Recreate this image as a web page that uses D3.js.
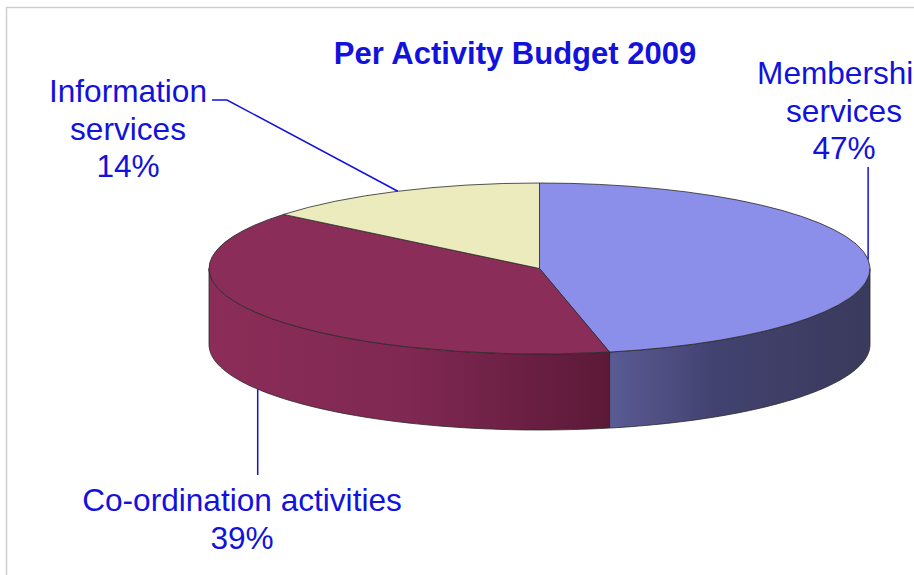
<!DOCTYPE html>
<html>
<head>
<meta charset="utf-8">
<script src="https://cdn.jsdelivr.net/npm/d3@7"></script>
<style>
  body { margin: 0; background: #fff; }
  svg { display: block; font-family: "Liberation Sans", Arial, sans-serif; }
</style>
</head>
<body>
<div class="canvas"></div>
<script>
// data
const activities = ["Membership services", "Co-ordination activities", "Information services"];
const shares = [46.6, 39.3, 14.1];
const titleText = "Per Activity Budget 2009";

const dims = { width: 914, height: 575 };
const pieDims = { cx: 539.5, cy: 268.5, rx: 330.5, ry: 85.5, depth: 76 };

const topColors = ["#8c8fe9", "#8b2d59", "#ecebbd"];
const sideStops = [
  [["0%", "#5b5b95"], ["40%", "#424270"], ["100%", "#3a3a5c"]],
  [["0%", "#8b2d58"], ["50%", "#7f2852"], ["100%", "#5c1937"]],
  [["0%", "#c4c39a"], ["100%", "#a9a883"]]
];
const labelColor = "#1212dc";

// create svg container
const svg = d3
  .select(".canvas")
  .append("svg")
  .attr("width", dims.width)
  .attr("height", dims.height);

// frame
svg
  .append("rect")
  .attr("x", 6.5)
  .attr("y", 7.5)
  .attr("width", 1000)
  .attr("height", 1000)
  .attr("fill", "none")
  .attr("stroke", "#cfcfcf")
  .attr("stroke-width", 1.5);

const defs = svg.append("defs");
sideStops.forEach((stops, i) => {
  const grad = defs
    .append("linearGradient")
    .attr("id", `side${i}`)
    .attr("x1", 0).attr("x2", 1).attr("y1", 0).attr("y2", 0);
  stops.forEach(([o, c]) => grad.append("stop").attr("offset", o).attr("stop-color", c));
});

const pie = d3.pie().sort(null).value((d) => d);
const slices = pie(shares);

// ellipse projection, angles clockwise from 12 o'clock
const px = (a) => pieDims.rx * Math.sin(a);
const py = (a) => -pieDims.ry * Math.cos(a);

const graph = svg
  .append("g")
  .attr("transform", `translate(${pieDims.cx}, ${pieDims.cy})`);

// side walls (only the front half is visible)
const front = [Math.PI / 2, Math.PI * 1.5];
const line = d3.line();

slices.forEach((s, i) => {
  const a0 = Math.max(s.startAngle, front[0]);
  const a1 = Math.min(s.endAngle, front[1]);
  if (a1 <= a0) return;
  const n = 60;
  const topPts = d3.range(n + 1).map((k) => {
    const a = a0 + ((a1 - a0) * k) / n;
    return [px(a), py(a)];
  });
  const botPts = topPts.slice().reverse().map(([x, y]) => [x, y + pieDims.depth]);
  graph
    .append("path")
    .attr("d", line(topPts.concat(botPts)) + "Z")
    .attr("fill", `url(#side${i})`)
    .attr("stroke", "#2a2a2a")
    .attr("stroke-width", 0.8)
    .attr("stroke-linejoin", "round");
});

// top face
const arcPath = d3.arc().innerRadius(0).outerRadius(pieDims.rx);
graph
  .append("g")
  .attr("transform", `scale(1, ${pieDims.ry / pieDims.rx})`)
  .selectAll("path")
  .data(slices)
  .enter()
  .append("path")
  .attr("d", arcPath)
  .attr("fill", (d, i) => topColors[i])
  .attr("stroke", "#2a2a2a")
  .attr("stroke-width", 0.8)
  .attr("vector-effect", "non-scaling-stroke")
  .attr("stroke-linejoin", "round");

// title
svg
  .append("text")
  .attr("x", 515)
  .attr("y", 64)
  .attr("text-anchor", "middle")
  .attr("font-weight", "bold")
  .attr("font-size", 31)
  .attr("fill", labelColor)
  .text(titleText);

// labels with leader lines
const midAngle = (s) => (s.startAngle + s.endAngle) / 2;
const labelSpecs = [
  { x: 844, y: 84, lines: ["Membership", "services"], leader: (p) => [[p[0], 167], p], onSide: false },
  { x: 242, y: 511, lines: ["Co-ordination activities"], leader: (p) => [[p[0], 475], p], onSide: true },
  { x: 128, y: 102, lines: ["Information", "services"], leader: (p) => [[212, 100], [227, 100], p], onSide: false }
];

const fontSize = 31.6;
const lineGap = 37.5;

slices.forEach((s, i) => {
  const spec = labelSpecs[i];
  const a = midAngle(s);
  const anchor = [pieDims.cx + px(a), pieDims.cy + py(a) + (spec.onSide ? pieDims.depth : 0)];
  svg
    .append("path")
    .attr("d", line(spec.leader(anchor)))
    .attr("fill", "none")
    .attr("stroke", labelColor)
    .attr("stroke-width", 1.5);

  const t = svg
    .append("text")
    .attr("x", spec.x)
    .attr("y", spec.y)
    .attr("text-anchor", "middle")
    .attr("font-size", fontSize)
    .attr("fill", labelColor);
  spec.lines
    .concat([`${Math.round(s.data)}%`])
    .forEach((l, k) => {
      t.append("tspan").attr("x", spec.x).attr("dy", k === 0 ? 0 : lineGap).text(l);
    });
});
</script>
</body>
</html>
